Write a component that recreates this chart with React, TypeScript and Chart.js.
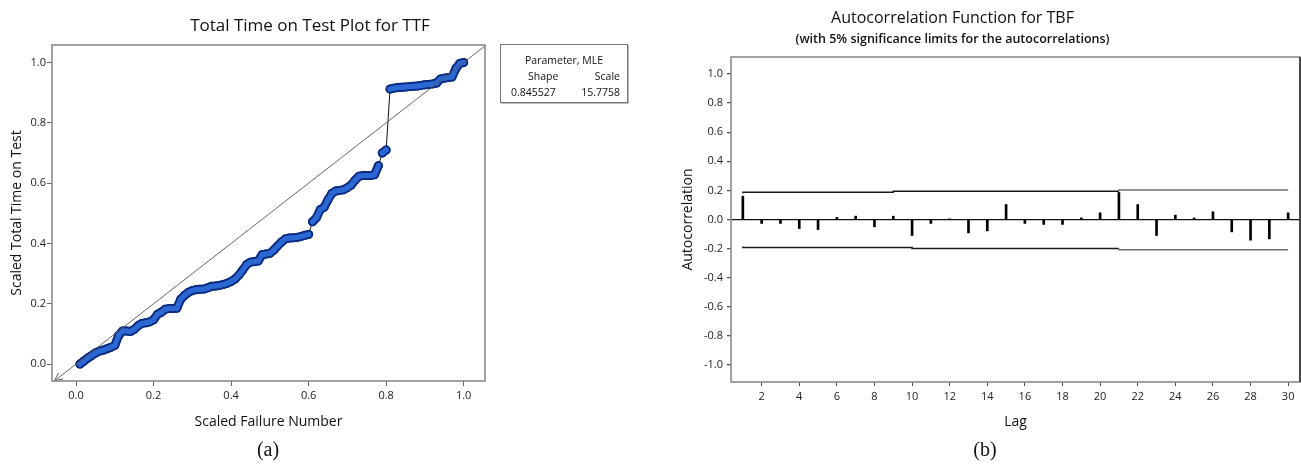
import React, { useEffect, useRef } from 'react';
import { Chart, registerables } from 'chart.js';

Chart.register(...registerables);

const FONT = "'Open Sans', 'Noto Sans', 'DejaVu Sans', sans-serif";

// ---------- (a) Total Time on Test plot ----------
const scaledFailureNumber = [
  0.01, 0.02, 0.03, 0.04, 0.05, 0.06, 0.07, 0.08, 0.09, 0.10,
  0.11, 0.12, 0.13, 0.14, 0.15, 0.16, 0.17, 0.18, 0.19, 0.20,
  0.21, 0.22, 0.23, 0.24, 0.25, 0.26, 0.27, 0.28, 0.29, 0.30,
  0.31, 0.32, 0.33, 0.34, 0.35, 0.36, 0.37, 0.38, 0.39, 0.40,
  0.41, 0.42, 0.43, 0.44, 0.45, 0.46, 0.47, 0.48, 0.49, 0.50,
  0.51, 0.52, 0.53, 0.54, 0.55, 0.56, 0.57, 0.58, 0.59, 0.60,
  0.61, 0.62, 0.63, 0.64, 0.65, 0.66, 0.67, 0.68, 0.69, 0.70,
  0.71, 0.72, 0.73, 0.74, 0.75, 0.76, 0.77, 0.78, 0.79, 0.80,
  0.81, 0.82, 0.83, 0.84, 0.85, 0.86, 0.87, 0.88, 0.89, 0.90,
  0.91, 0.92, 0.93, 0.94, 0.95, 0.96, 0.97, 0.98, 0.99, 1.00,
];
const scaledTotalTime = [
  0.000, 0.010, 0.020, 0.028, 0.037, 0.043, 0.046, 0.051, 0.056, 0.062,
  0.095, 0.110, 0.110, 0.108, 0.115, 0.127, 0.135, 0.137, 0.140, 0.147,
  0.165, 0.172, 0.182, 0.184, 0.184, 0.185, 0.215, 0.228, 0.238, 0.244,
  0.247, 0.248, 0.249, 0.253, 0.258, 0.259, 0.261, 0.264, 0.268, 0.274,
  0.282, 0.295, 0.312, 0.330, 0.338, 0.340, 0.342, 0.363, 0.365, 0.367,
  0.378, 0.392, 0.405, 0.415, 0.418, 0.419, 0.420, 0.423, 0.427, 0.430,
  0.472, 0.485, 0.512, 0.520, 0.545, 0.566, 0.574, 0.576, 0.578, 0.585,
  0.594, 0.610, 0.623, 0.625, 0.625, 0.625, 0.628, 0.658, 0.700, 0.710,
  0.912, 0.915, 0.917, 0.918, 0.919, 0.920, 0.921, 0.922, 0.924, 0.926,
  0.927, 0.929, 0.932, 0.945, 0.948, 0.950, 0.952, 0.980, 0.997, 1.000,
];
const referenceLine = [-0.07, 1.07];
const tttTicks = [0, 0.2, 0.4, 0.6, 0.8, 1.0];
const tttXRange = [-0.062, 1.055];
const tttYRange = [-0.056, 1.058];
const JUMP = 0.035;

// ---------- (b) Autocorrelation function ----------
const lags = [
  1, 2, 3, 4, 5, 6, 7, 8, 9, 10, 11, 12, 13, 14, 15,
  16, 17, 18, 19, 20, 21, 22, 23, 24, 25, 26, 27, 28, 29, 30,
];
const autocorrelation = [
  0.160, -0.027, -0.027, -0.062, -0.069, 0.014, 0.023, -0.050, 0.023, -0.110,
  -0.027, 0.003, -0.092, -0.078, 0.103, -0.027, -0.034, -0.034, 0.011, 0.046,
  0.186, 0.103, -0.110, 0.030, 0.011, 0.053, -0.085, -0.142, -0.133, 0.046,
];
const upperLimitLags = [1, 9, 21, 24, 30];
const upperLimit = [0.180, 0.188, 0.195, 0.203, 0.203];
const lowerLimitLags = [1, 10, 21, 24, 30];
const lowerLimit = [-0.185, -0.193, -0.200, -0.208, -0.208];
const lagTicks = [2, 4, 6, 8, 10, 12, 14, 16, 18, 20, 22, 24, 26, 28, 30];
const acfTicks = [-1.0, -0.8, -0.6, -0.4, -0.2, 0, 0.2, 0.4, 0.6, 0.8, 1.0];
const lagRange = [0.37, 30.63];
const acfRange = [-1.117, 1.117];

const fmt1 = (v: any) => {
  const n = Number(v);
  return Math.abs(n) < 1e-9 ? '0.0' : n.toFixed(1);
};

const framePlugin = {
  id: 'frame',
  afterDraw(chart: any, _args: any, opts: any) {
    const { ctx, chartArea: a } = chart;
    ctx.save();
    ctx.strokeStyle = opts.color || '#8a8a8a';
    ctx.lineWidth = opts.width || 1.5;
    ctx.strokeRect(a.left, a.top, a.right - a.left, a.bottom - a.top);
    if (opts.rightColor) {
      ctx.strokeStyle = opts.rightColor;
      ctx.beginPath();
      ctx.moveTo(a.right, a.top);
      ctx.lineTo(a.right, a.bottom);
      ctx.stroke();
    }
    ctx.restore();
  },
};

const arrowPlugin = {
  id: 'refArrow',
  afterDatasetsDraw(chart: any) {
    const meta = chart.getDatasetMeta(0);
    if (!meta || meta.data.length < 2) return;
    const p = meta.data[0];
    const q = meta.data[1];
    const area = chart.chartArea;
    const dx = q.x - p.x;
    const dy = q.y - p.y;
    const t = Math.max((area.left - p.x) / dx, (area.bottom - p.y) / dy, 0);
    const tip = { x: p.x + dx * t, y: p.y + dy * t };
    const ang = Math.atan2(-dy, -dx);
    const len = 9;
    const spread = 0.42;
    const ctx = chart.ctx;
    ctx.save();
    ctx.strokeStyle = '#555';
    ctx.lineWidth = 1;
    ctx.beginPath();
    ctx.moveTo(tip.x - len * Math.cos(ang - spread), tip.y - len * Math.sin(ang - spread));
    ctx.lineTo(tip.x, tip.y);
    ctx.lineTo(tip.x - len * Math.cos(ang + spread), tip.y - len * Math.sin(ang + spread));
    ctx.stroke();
    ctx.restore();
  },
};

const isJump = (c: any) => Math.abs(c.p1.parsed.y - c.p0.parsed.y) > JUMP;

function TTTChart() {
  const ref = useRef<HTMLCanvasElement | null>(null);
  useEffect(() => {
    if (!ref.current) return;
    const pts = scaledFailureNumber.map((x, i) => ({ x, y: scaledTotalTime[i] }));
    const chart = new Chart(ref.current, {
      type: 'scatter',
      data: {
        datasets: [
          {
            label: 'reference',
            data: referenceLine.map((v) => ({ x: v, y: v })),
            showLine: true,
            borderColor: '#555',
            borderWidth: 0.9,
            pointRadius: 0,
          },
          {
            label: 'TTT fill',
            data: pts,
            showLine: true,
            borderColor: '#2c68d2',
            borderCapStyle: 'round',
            borderJoinStyle: 'round',
            segment: {
              borderColor: (c: any) => (isJump(c) ? 'rgba(0,0,0,0)' : '#2c68d2'),
              borderWidth: (c: any) => (isJump(c) ? 0.01 : 5),
            },
            pointRadius: 2.6,
            pointBackgroundColor: '#2c68d2',
            pointBorderWidth: 0,
          },
          {
            label: 'TTT',
            data: pts,
            showLine: true,
            borderColor: '#0c2c84',
            borderCapStyle: 'round',
            borderJoinStyle: 'round',
            segment: {
              borderColor: (c: any) => (isJump(c) ? '#111' : '#0c2c84'),
              borderWidth: (c: any) => (isJump(c) ? 1 : 9),
            },
            pointRadius: 4.5,
            pointBackgroundColor: '#0c2c84',
            pointBorderWidth: 0,
          },
        ],
      } as any,
      options: {
        animation: false,
        responsive: false,
        events: [],
        layout: { padding: { left: 0, right: 52, top: 45, bottom: 0 } },
        plugins: {
          legend: { display: false },
          tooltip: { enabled: false },
          title: { display: false },
          frame: { color: '#8a8a8a', width: 1.6 },
        } as any,
        scales: {
          x: {
            type: 'linear',
            min: tttXRange[0],
            max: tttXRange[1],
            afterBuildTicks: (s: any) => { s.ticks = tttTicks.map((v) => ({ value: v })); },
            afterFit: (s: any) => { s.height = 59; },
            border: { display: false },
            grid: { display: true, drawOnChartArea: false, tickLength: 5, tickColor: '#666' },
            ticks: { color: '#222', padding: 3, maxRotation: 0, font: { family: FONT, size: 11 }, callback: fmt1 },
            title: {
              display: true,
              text: 'Scaled Failure Number',
              color: '#111',
              font: { family: FONT, size: 14 },
              padding: { top: 0, bottom: 10 },
            },
          },
          y: {
            type: 'linear',
            min: tttYRange[0],
            max: tttYRange[1],
            afterBuildTicks: (s: any) => { s.ticks = tttTicks.map((v) => ({ value: v })); },
            afterFit: (s: any) => { s.width = 52; },
            border: { display: false },
            grid: { display: true, drawOnChartArea: false, tickLength: 5, tickColor: '#666' },
            ticks: { color: '#222', padding: 1, font: { family: FONT, size: 11 }, callback: fmt1 },
            title: {
              display: true,
              text: 'Scaled Total Time on Test',
              color: '#111',
              font: { family: FONT, size: 14 },
              padding: { top: 9, bottom: 0 },
            },
          },
        },
      } as any,
      plugins: [framePlugin, arrowPlugin],
    });
    return () => chart.destroy();
  }, []);
  return (
    <canvas
      ref={ref}
      width={537}
      height={440}
      style={{ position: 'absolute', left: 0, top: 0, width: 537, height: 440 }}
    />
  );
}

function ACFChart() {
  const ref = useRef<HTMLCanvasElement | null>(null);
  useEffect(() => {
    if (!ref.current) return;
    const segColor = (ctx: any) => (ctx.p0.parsed.x >= 21 ? '#6f6f6f' : '#1a1a1a');
    const chart = new Chart(ref.current, {
      type: 'bar',
      data: {
        datasets: [
          {
            type: 'bar',
            label: 'ACF',
            data: lags.map((l, i) => ({ x: l, y: autocorrelation[i] })),
            backgroundColor: '#000',
            barThickness: 2,
          },
          {
            type: 'line',
            label: 'Upper limit',
            data: upperLimitLags.map((l, i) => ({ x: l, y: upperLimit[i] })),
            stepped: 'after',
            borderColor: '#1a1a1a',
            segment: { borderColor: segColor },
            borderWidth: 1.5,
            pointRadius: 0,
            fill: false,
          },
          {
            type: 'line',
            label: 'Lower limit',
            data: lowerLimitLags.map((l, i) => ({ x: l, y: lowerLimit[i] })),
            stepped: 'after',
            borderColor: '#1a1a1a',
            segment: { borderColor: segColor },
            borderWidth: 1.5,
            pointRadius: 0,
            fill: false,
          },
        ],
      } as any,
      options: {
        animation: false,
        responsive: false,
        events: [],
        layout: { padding: { left: 0, right: 1, top: 0, bottom: 0 } },
        plugins: {
          legend: { display: false },
          tooltip: { enabled: false },
          title: {
            display: true,
            text: 'Autocorrelation Function for TBF',
            color: '#111',
            font: { family: FONT, size: 16, weight: 'normal' },
            padding: { top: 9, bottom: 4 },
          },
          subtitle: {
            display: true,
            text: '(with 5% significance limits for the autocorrelations)',
            color: '#111',
            font: { family: FONT, size: 12.5, weight: '600' },
            padding: { top: 0, bottom: 9.8 },
          },
          frame: { color: '#8a8a8a', width: 1.6, rightColor: '#333' },
        } as any,
        scales: {
          x: {
            type: 'linear',
            min: lagRange[0],
            max: lagRange[1],
            offset: false,
            afterBuildTicks: (s: any) => { s.ticks = lagTicks.map((v) => ({ value: v })); },
            afterFit: (s: any) => { s.height = 58; },
            border: { display: false },
            grid: { display: true, drawOnChartArea: false, tickLength: 4, tickColor: '#555', offset: false },
            ticks: { color: '#222', padding: 4, maxRotation: 0, font: { family: FONT, size: 11 } },
            title: {
              display: true,
              text: 'Lag',
              color: '#111',
              font: { family: FONT, size: 14 },
              padding: { top: 0, bottom: 10 },
            },
          },
          y: {
            type: 'linear',
            min: acfRange[0],
            max: acfRange[1],
            afterBuildTicks: (s: any) => { s.ticks = acfTicks.map((v) => ({ value: v })); },
            afterFit: (s: any) => { s.width = 126; },
            border: { display: false },
            grid: {
              display: true,
              drawOnChartArea: true,
              color: (c: any) => (c.tick && c.tick.value === 0 ? '#111' : 'rgba(0,0,0,0)'),
              lineWidth: 1.3,
              tickLength: 4,
              tickColor: '#555',
            },
            ticks: { color: '#222', padding: 4, font: { family: FONT, size: 11 }, callback: fmt1 },
            title: {
              display: true,
              text: 'Autocorrelation',
              color: '#111',
              font: { family: FONT, size: 14 },
              padding: { top: 74.6, bottom: 0 },
            },
          },
        },
      } as any,
      plugins: [framePlugin],
    });
    return () => chart.destroy();
  }, []);
  return (
    <canvas
      ref={ref}
      width={696}
      height={440}
      style={{ position: 'absolute', left: 605, top: 0, width: 696, height: 440 }}
    />
  );
}

const legendText: React.CSSProperties = {
  position: 'absolute',
  fontFamily: FONT,
  fontSize: 10.5,
  color: '#111',
  lineHeight: '12px',
  whiteSpace: 'nowrap',
};

const captionStyle: React.CSSProperties = {
  position: 'absolute',
  width: 100,
  top: 437,
  textAlign: 'center',
  fontFamily: "'Liberation Serif', 'Times New Roman', serif",
  fontSize: 20,
  lineHeight: '24px',
  color: '#111',
};

export default function App() {
  return (
    <div
      style={{
        position: 'absolute',
        left: 0,
        top: 0,
        width: 1301,
        height: 464,
        background: '#fff',
        overflow: 'hidden',
      }}
    >
      <TTTChart />
      <ACFChart />
      <div
        style={{
          position: 'absolute',
          left: 160,
          width: 300,
          top: 15,
          textAlign: 'center',
          fontFamily: FONT,
          fontSize: 17,
          lineHeight: '20px',
          color: '#111',
          whiteSpace: 'nowrap',
        }}
      >
        Total Time on Test Plot for TTF
      </div>
      <div
        style={{
          position: 'absolute',
          left: 500,
          top: 44,
          width: 126,
          height: 57,
          border: '1px solid #777',
          boxShadow: '1px 1px 0 #bbb',
          background: '#fff',
        }}
      >
        <div style={{ ...legendText, left: 0, width: 126, top: 9, textAlign: 'center' }}>Parameter, MLE</div>
        <div style={{ ...legendText, left: 27, top: 25 }}>Shape</div>
        <div style={{ ...legendText, right: 7, top: 25 }}>Scale</div>
        <div style={{ ...legendText, left: 10, top: 41 }}>0.845527</div>
        <div style={{ ...legendText, right: 7, top: 41 }}>15.7758</div>
      </div>
      <div style={{ ...captionStyle, left: 218 }}>(a)</div>
      <div style={{ ...captionStyle, left: 935 }}>(b)</div>
    </div>
  );
}
